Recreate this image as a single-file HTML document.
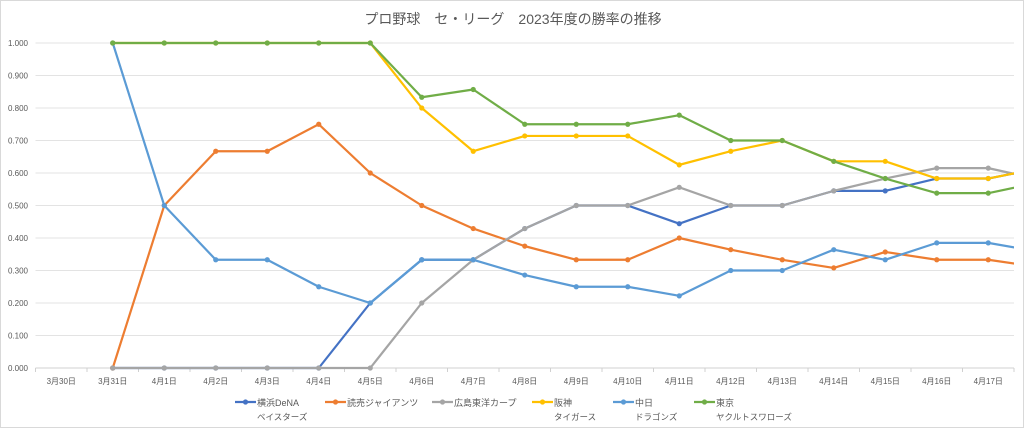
<!DOCTYPE html>
<html><head><meta charset="utf-8">
<style>
html,body{margin:0;padding:0;background:#fff;}
#wrap{position:relative;width:1024px;height:428px;overflow:hidden;border:1px solid #d9d9d9;box-sizing:border-box;}
svg text{font-family:"Liberation Sans","Noto Sans CJK JP",sans-serif;}
</style></head>
<body>
<div id="wrap">
<svg id="chart" width="1024" height="428">
<text x="512" y="23" text-anchor="middle" font-size="14" fill="#595959">プロ野球　セ・リーグ　2023年度の勝率の推移</text>
<defs><clipPath id="plotclip"><rect x="30" y="30" width="983" height="345"/></clipPath></defs>
<g id="grid"></g><g id="axes"></g><g id="series" clip-path="url(#plotclip)"></g><g id="legend"></g>
</svg>
</div>
<script>
const categories = ["3月30日","3月31日","4月1日","4月2日","4月3日","4月4日","4月5日","4月6日","4月7日","4月8日","4月9日","4月10日","4月11日","4月12日","4月13日","4月14日","4月15日","4月16日","4月17日","4月18日"];
const yTicks = [0,0.1,0.2,0.3,0.4,0.5,0.6,0.7,0.8,0.9,1.0];
const seriesNames = ["横浜DeNA","読売ジャイアンツ","広島東洋カープ","阪神","中日","東京"];
const seriesSub = ["ベイスターズ","","","タイガース","ドラゴンズ","ヤクルトスワローズ"];
const seriesColors = ["#4472c4","#ed7d31","#a5a5a5","#ffc000","#5b9bd5","#70ad47"];
const dena = [null,0,0,0,0,0,0.2,0.333,0.333,0.429,0.5,0.5,0.444,0.5,0.5,0.545,0.545,0.583,0.583,0.615];
const giants = [null,0,0.5,0.667,0.667,0.75,0.6,0.5,0.429,0.375,0.333,0.333,0.4,0.364,0.333,0.308,0.357,0.333,0.333,0.31];
const carp = [null,0,0,0,0,0,0,0.2,0.333,0.429,0.5,0.5,0.556,0.5,0.5,0.545,0.583,0.615,0.615,0.58];
const tigers = [null,1,1,1,1,1,1,0.8,0.667,0.714,0.714,0.714,0.625,0.667,0.7,0.636,0.636,0.583,0.583,0.615];
const dragons = [null,1,0.5,0.333,0.333,0.25,0.2,0.333,0.333,0.286,0.25,0.25,0.222,0.3,0.3,0.364,0.333,0.385,0.385,0.357];
const swallows = [null,1,1,1,1,1,1,0.833,0.857,0.75,0.75,0.75,0.778,0.7,0.7,0.636,0.583,0.538,0.538,0.571];
const allSeries = [dena,giants,carp,tigers,dragons,swallows];

const NS="http://www.w3.org/2000/svg";
const X0=34.5, STEP=51.5, Y0=367, YH=325;
function xPos(i){return X0+STEP*(i+0.5);}
function yPos(v){return Y0-v*YH;}
function mk(tag,attrs,parent){const e=document.createElementNS(NS,tag);for(const k in attrs)e.setAttribute(k,attrs[k]);parent.appendChild(e);return e;}
const grid=document.getElementById('grid'),axes=document.getElementById('axes'),ser=document.getElementById('series'),leg=document.getElementById('legend');

yTicks.forEach(t=>{
  const y=yPos(t);
  if(t>0){const l=mk('line',{x1:X0,x2:1013,y1:y,y2:y,stroke:'#e3e3e3','stroke-width':1},grid);
  
  }
  const tx=mk('text',{x:27,y:y+3,'text-anchor':'end','font-size':8,fill:'#595959'},axes);
  tx.textContent=t.toFixed(3);
  
  
});
const ax=mk('line',{x1:X0,x2:1013,y1:Y0,y2:Y0,stroke:'#d0d0d0','stroke-width':1},axes);


categories.forEach((c,i)=>{
  const tk=mk('line',{x1:X0+STEP*i,x2:X0+STEP*i,y1:Y0,y2:Y0+4,stroke:'#d0d0d0'},axes);
  
  
  if(xPos(i)<1010){
    const tx=mk('text',{x:xPos(i),y:383,'text-anchor':'middle','font-size':8,fill:'#595959'},axes);
    tx.textContent=c;
    
    
  }
});
allSeries.forEach((data,s)=>{
  const g=mk('g',{},ser);
  
  
  let d='';
  data.forEach((v,i)=>{if(v===null)return;d+=(d?'L':'M')+xPos(i)+','+yPos(v);});
  const p=mk('path',{d:d,fill:'none',stroke:seriesColors[s],'stroke-width':2.2,'stroke-linejoin':'round'},g);
  
  
  data.forEach((v,i)=>{if(v===null)return;
    const c=mk('circle',{cx:xPos(i),cy:yPos(v),r:2.6,fill:seriesColors[s]},g);
    
    
  });
});
const legX=[234,324,431,531,612,693];
seriesNames.forEach((n,s)=>{
  const g=mk('g',{},leg);
  
  
  mk('line',{x1:legX[s],x2:legX[s]+21,y1:401,y2:401,stroke:seriesColors[s],'stroke-width':2.2},g);
  mk('circle',{cx:legX[s]+10.5,cy:401,r:2.6,fill:seriesColors[s]},g);
  const t=mk('text',{x:legX[s]+22,y:405,'font-size':9,fill:'#595959'},g);
  t.textContent=n;
  if(seriesSub[s]){const t2=mk('text',{x:legX[s]+22,y:419,'font-size':8.5,fill:'#595959'},g);t2.textContent=seriesSub[s];}
});
</script>
</body></html>
